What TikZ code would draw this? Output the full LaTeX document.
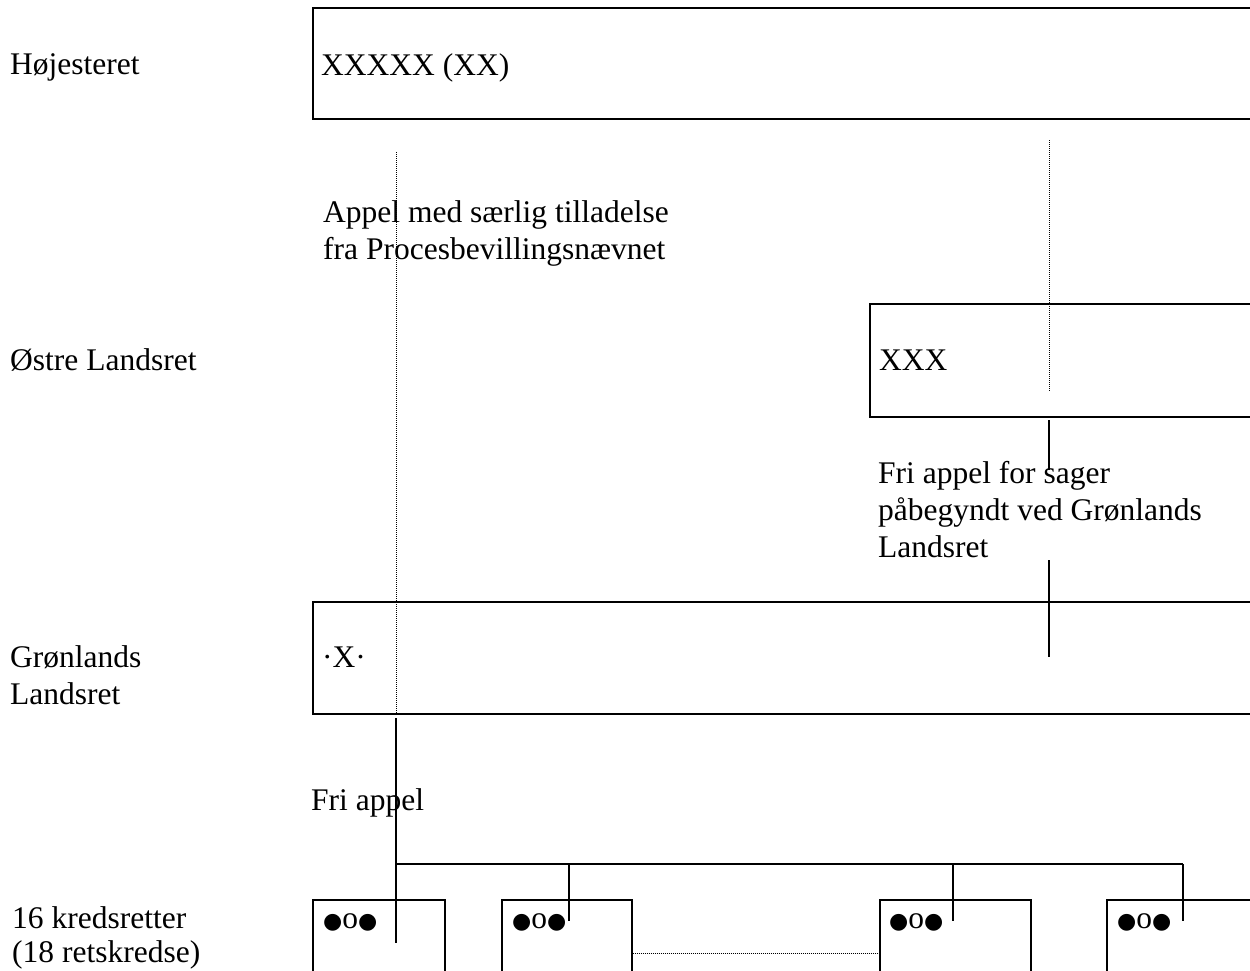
\documentclass[tikz,border=0pt]{standalone}
\usepackage{fontspec}
\setmainfont{Liberation Serif}
\newfontfamily\dejavu{DejaVu Sans}
\newcommand\mybul{{\fontsize{22}{22}\dejavu ●}}
\newcommand\kreds{\mybul o\mybul}
\begin{document}
\begin{tikzpicture}[x=1pt,y=-1pt,
  box/.style={draw, line width=1.6pt, inner sep=0pt, rectangle, anchor=north west},
  lbl/.style={anchor=base west, inner sep=0pt, align=left, font=\fontsize{31.5}{37}\selectfont},
  conn/.style={line width=1.3pt},
  dots/.style={line width=1pt, dash pattern=on 1pt off 1pt}]
\useasboundingbox (0,0) rectangle (1250,970);
\fill[white] (0,0) rectangle (1250,970);
\clip (0,0) rectangle (1250,970);
% boxes
\node[box, minimum width=960pt, minimum height=111pt] (hoj) at (312,7) {};
\node[box, minimum width=400pt, minimum height=113pt] (ostre) at (869,303) {};
\node[box, minimum width=960pt, minimum height=112pt] (gron) at (312,601) {};
\node[box, minimum width=132pt, minimum height=100pt] (k1) at (312,899) {};
\node[box, minimum width=130pt, minimum height=100pt] (k2) at (501,899) {};
\node[box, minimum width=151pt, minimum height=100pt] (k3) at (879,899) {};
\node[box, minimum width=200pt, minimum height=100pt] (k4) at (1106,899) {};
% texts (multi-line nodes: base = last line)
\node[lbl] (t1) at (10,74) {Højesteret};
\node[lbl] (t2) at (321,75) {XXXXX (XX)};
\node[lbl] (t3) at (323,259) {Appel med særlig tilladelse\\fra Procesbevillingsnævnet};
\node[lbl] (t4) at (10,370) {Østre Landsret};
\node[lbl] (t5) at (879,370) {XXX};
\node[lbl] (t6) at (878,557) {Fri appel for sager\\påbegyndt ved Grønlands\\Landsret};
\node[lbl] (t7) at (10,704) {Grønlands\\Landsret};
\node[lbl] (t8) at (322,667) {·X·};
\node[lbl] (t9) at (311,810) {Fri appel};
\node[lbl, font=\fontsize{31.5}{34}\selectfont] (t10) at (12,962) {16 kredsretter\\(18 retskredse)};
\node[lbl] (b1) at (323,928) {\kreds};
\node[lbl] (b2) at (512,928) {\kreds};
\node[lbl] (b3) at (889,928) {\kreds};
\node[lbl] (b4) at (1117,928) {\kreds};
% connector points
\coordinate (la) at (396,152);
\coordinate (lb) at (396,718);
\coordinate (lc) at (396,943);
\coordinate (h1) at (396,864);
\coordinate (h2) at (569,864);
\coordinate (h3) at (953,864);
\coordinate (h4) at (1183,864);
\coordinate (d2) at (569,921);
\coordinate (d3) at (953,921);
\coordinate (d4) at (1183,921);
\coordinate (ra) at (1049,140);
\coordinate (rb) at (1049,392);
\coordinate (rc) at (1049,420);
\coordinate (rd) at (1049,470);
\coordinate (re) at (1049,560);
\coordinate (rf) at (1049,657);
% connectors
\draw[dots] (la) -- (la |- gron.south);
\draw[conn] (lb) -- (lc);
\draw[conn] (h1) -- (h4);
\draw[conn] (h2) -- (d2);
\draw[conn] (h3) -- (d3);
\draw[conn] (h4) -- (d4);
\draw[dots] (ra) -- (rb);
\draw[conn] (rc) -- (rd);
\draw[conn] (re) -- (rf);
\draw[dots] ([yshift=-4pt]k2.east) -- ([yshift=-4pt]k3.west);
\end{tikzpicture}
\end{document}
